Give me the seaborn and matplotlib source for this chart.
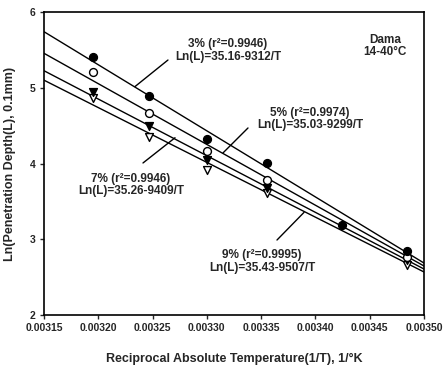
import matplotlib
matplotlib.use("Agg")
import matplotlib.pyplot as plt
import seaborn as sns
import pandas as pd

# ---- data ----
inv_T = [0.0031949, 0.0032468, 0.0033003, 0.0033557, 0.0034247, 0.0034843]
ln_3 = [5.40, 4.89, 4.33, 4.01, 3.19, 2.85]
ln_5 = [5.21, 4.67, 4.16, 3.78, None, 2.77]
ln_7 = [4.95, 4.49, 4.05, 3.68, None, 2.72]
ln_9 = [4.86, 4.35, 3.92, 3.615, None, 2.66]

fit_x = [0.00315, 0.00350]
fit_3 = [5.74, 2.686]
fit_5 = [5.455, 2.647]
fit_7 = [5.225, 2.607]
fit_9 = [5.10, 2.568]

series_names = ["3%", "5%", "7%", "9%"]
labels = [
    "3% (r²=0.9946)\nLn(L)=35.16-9312/T",
    "5% (r²=0.9974)\nLn(L)=35.03-9299/T",
    "7% (r²=0.9946)\nLn(L)=35.26-9409/T",
    "9% (r²=0.9995)\nLn(L)=35.43-9507/T",
]
label_pos = [(0.0033195, 5.49), (0.003395, 4.587), (0.00323, 3.716), (0.0033508, 2.706)]
leaders = [
    ((0.0032642, 5.366), (0.0032338, 5.015)),
    ((0.0033379, 4.469), (0.0033149, 4.140)),
    ((0.0032412, 4.007), (0.0032707, 4.340)),
    ((0.0033646, 2.990), (0.0033895, 3.355)),
]
x_ticks = [0.00315, 0.00320, 0.00325, 0.00330, 0.00335, 0.00340, 0.00345, 0.00350]
y_ticks = [2, 3, 4, 5, 6]

sns.set_style("ticks")
plt.rcParams["font.family"] = ["Liberation Sans Narrow", "Liberation Sans", "DejaVu Sans"]
plt.rcParams["font.weight"] = "bold"

fig = plt.figure(figsize=(4.44, 3.70), dpi=100)
ax = fig.add_axes([0.099, 0.1486, 0.856, 0.819])

# fit lines
for fy in [fit_3, fit_5, fit_7, fit_9]:
    sns.lineplot(x=fit_x, y=fy, ax=ax, color="black", linewidth=1.0, legend=False)

styles = [
    dict(marker="o", facecolor="black", edgecolor="black"),
    dict(marker="o", facecolor="white", edgecolor="black"),
    dict(marker="v", facecolor="black", edgecolor="black"),
    dict(marker="v", facecolor="white", edgecolor="black"),
]
for ys, st in zip([ln_9, ln_7, ln_5, ln_3], styles[::-1]):
    df = pd.DataFrame({"x": inv_T, "y": ys}).dropna()
    sns.scatterplot(data=df, x="x", y="y", ax=ax, marker=st["marker"],
                    facecolor=st["facecolor"], edgecolor=st["edgecolor"],
                    s=32, linewidth=1.0, zorder=3, legend=False)

for txt, (tx, ty) in zip(labels, label_pos):
    ax.text(tx, ty, txt, ha="center", va="center", fontsize=8.5,
            fontweight="bold", linespacing=1.05)
for (p1, p2) in leaders:
    ax.plot([p1[0], p2[0]], [p1[1], p2[1]], color="black", linewidth=1.0)

ax.text(0.003464, 5.551, "Dama\n14-40°C", ha="center", va="center",
        fontsize=8.5, fontweight="bold", linespacing=1.05)

ax.set_xlim(0.00315, 0.00350)
ax.set_ylim(2, 6)
ax.set_xticks(x_ticks)
ax.set_xticklabels([f"{v:.5f}" for v in x_ticks])
ax.set_yticks(y_ticks)
ax.tick_params(axis="both", labelsize=7.5, width=1.0, length=3, direction="out", pad=3)
for lab in ax.get_xticklabels() + ax.get_yticklabels():
    lab.set_fontweight("bold")
for sp in ax.spines.values():
    sp.set_visible(True)
    sp.set_linewidth(1.2)
    sp.set_color("black")

ax.set_xlabel("Reciprocal Absolute Temperature(1/T), 1/°K", fontsize=9,
              fontweight="bold", labelpad=14)
ax.set_ylabel("Ln(Penetration Depth(L), 0.1mm)", fontsize=9, fontweight="bold",
              labelpad=10)

fig.savefig("out.png", dpi=100)
